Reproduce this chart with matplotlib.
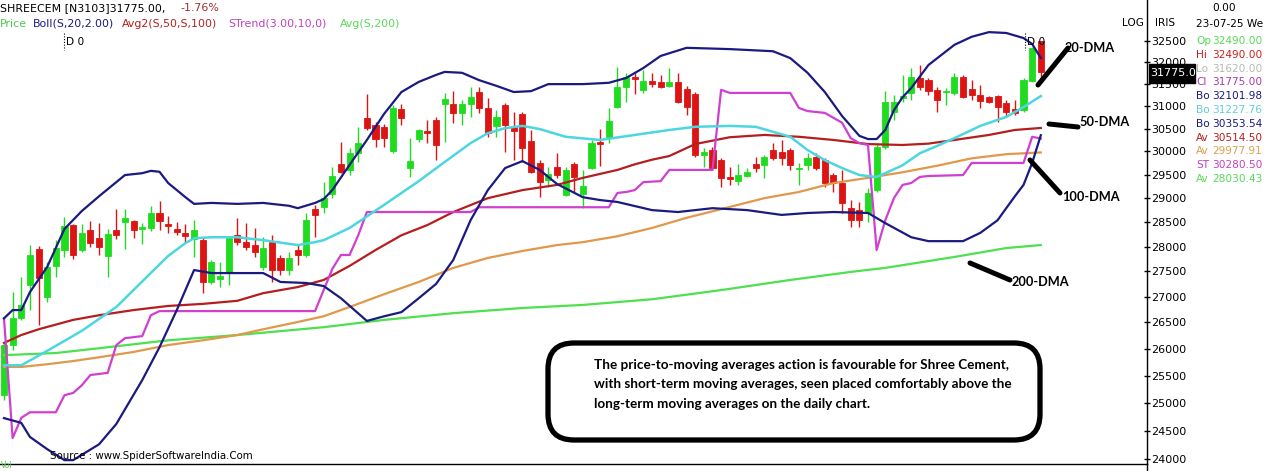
import numpy as np
import matplotlib.pyplot as plt
from matplotlib.patches import FancyBboxPatch, Rectangle
from matplotlib.ticker import FixedLocator, NullLocator

# ---- daily candles (SHREECEM) ----
opens = [25140, 26070, 26580, 27230, 27950, 26990, 27610, 27930, 28440, 27930,
         28340, 28170, 27810, 28340, 28500, 28520, 28360, 28380, 28690, 28460,
         28360, 28280, 28150, 28130, 27290, 27350, 27470, 28240, 28090, 28030,
         27590, 28090, 27770, 27530, 27930, 27830, 28770, 28810, 29090, 29730,
         29600, 29960, 30740, 30580, 30540, 30010, 30940, 29640, 30270, 30450,
         30690, 31050, 31050, 30850, 31050, 31320, 30960, 30560, 31030, 30540,
         30830, 30230, 29750, 29380, 29660, 29070, 29730, 29090, 29640, 30200,
         30310, 30980, 31430, 31660, 31370, 31570, 31550, 31460, 31550, 31390,
         31280, 29920, 30030, 29810, 29450, 29360, 29470, 29730, 29700, 30030,
         29990, 30030, 29620, 29700, 29880, 29810, 29490, 29320, 28790, 28750,
         28690, 29170, 30100, 30870, 31180, 31300, 31640, 31590, 31370, 31320,
         31300, 31660, 31390, 31250, 31210, 31230, 31070, 30940, 30910, 31570,
         32490]
highs = [26150, 27090, 27390, 28030, 28010, 27690, 28130, 28610, 28460, 28460,
         28520, 28480, 28360, 28770, 28770, 28540, 28480, 28830, 28940, 28630,
         28500, 28460, 28540, 28190, 27730, 27690, 28210, 28580, 28480, 28380,
         28190, 28240, 27830, 27890, 28030, 28690, 28860, 29340, 29660, 30200,
         30070, 30540, 31280, 30650, 30600, 31030, 31050, 30290, 30490, 30690,
         30760, 31300, 31340, 31140, 31430, 31430, 31180, 30910, 31070, 30870,
         30870, 30470, 29810, 29660, 29960, 29660, 29770, 29600, 30250, 30490,
         30960, 31890, 31750, 31750, 31820, 31750, 31710, 31870, 31750, 31460,
         31320, 30070, 30100, 29860, 29660, 29730, 29640, 29880, 29920, 30180,
         30250, 30070, 29750, 29960, 29960, 29860, 29540, 29600, 28960, 28920,
         29210, 30180, 31340, 31250, 31710, 31870, 31940, 31640, 31430, 31410,
         31750, 31710, 31590, 31480, 31230, 31250, 31140, 31140, 31640, 32360,
         32490]
lows = [25050, 25975, 26550, 26740, 26450, 26890, 27390, 27790, 27750, 27890,
        27990, 27830, 27390, 28150, 27950, 28170, 28050, 28320, 28340, 28280,
        28240, 28070, 27790, 27070, 27250, 27190, 27230, 28030, 27930, 27790,
        27530, 27290, 27430, 27430, 27630, 27790, 28190, 28690, 29000, 29540,
        29490, 29770, 30470, 30100, 30100, 29960, 30580, 29450, 30200, 30180,
        29810, 30200, 30620, 30580, 30760, 30850, 30310, 30310, 29990, 29810,
        29770, 29540, 29020, 29230, 29430, 29040, 29130, 28790, 29620, 29680,
        30180, 30960, 31090, 31270, 31300, 31430, 31410, 31430, 31070, 30800,
        29880, 29660, 29600, 29230, 29280, 29280, 29450, 29560, 29430, 29810,
        29700, 29600, 29280, 29600, 29600, 29230, 29130, 28690, 28400, 28400,
        28500, 29130, 30050, 30690, 31090, 31140, 31370, 31250, 30870, 31030,
        31250, 31180, 31140, 30960, 31070, 30650, 30760, 30800, 30870, 31550,
        31620]
closes = [26070, 26580, 26840, 27830, 27370, 27590, 27970, 28420, 27830, 28280,
          28070, 27990, 28260, 28240, 28580, 28340, 28400, 28690, 28520, 28420,
          28300, 28210, 28340, 27290, 27690, 27410, 28170, 28090, 27990, 27890,
          27970, 27530, 27530, 27770, 27830, 28540, 28650, 29010, 29470, 29560,
          29960, 30180, 30510, 30270, 30290, 30960, 30740, 29790, 30470, 30400,
          30140, 31160, 30850, 31050, 31210, 30960, 30400, 30760, 30580, 30450,
          30070, 29560, 29340, 29510, 29490, 29600, 29450, 29250, 30180, 30160,
          30670, 31430, 31660, 31620, 31570, 31500, 31430, 31550, 31090, 30980,
          29920, 29990, 29640, 29430, 29400, 29490, 29560, 29640, 29880, 29860,
          29860, 29700, 29640, 29860, 29640, 29320, 29320, 28900, 28540, 28540,
          29110, 30100, 31090, 31090, 31230, 31660, 31430, 31340, 31140, 31340,
          31660, 31210, 31250, 31120, 31090, 30980, 30870, 30850, 31590, 32344,
          31775]

# ---- indicator lines (candle index, price) ----
bb_up_idx = [0, 1, 2, 3, 5, 7, 9, 11, 14, 16, 17, 18, 19, 21, 22, 24, 27, 30, 33, 34,
             36, 37, 38, 40, 42, 44, 46, 48, 50, 51, 53, 55, 57, 59, 61, 63, 67, 70,
             72, 74, 76, 79, 84, 89, 91, 93, 95, 97, 98, 99, 100, 101, 102, 103, 104,
             105, 107, 110, 112, 114, 116, 118, 119, 120]
bb_up = [26580, 26740, 26740, 27090, 27590, 28360, 28730, 29040, 29490, 29530, 29580,
         29560, 29320, 29020, 28880, 28900, 28880, 28900, 28840, 28790, 28900, 28980,
         29170, 29710, 30250, 30830, 31320, 31550, 31710, 31780, 31760, 31590, 31460,
         31320, 31340, 31500, 31500, 31530, 31640, 31870, 32150, 32340, 32310, 32260,
         32100, 31760, 31320, 30780, 30560, 30340, 30270, 30270, 30470, 30910, 31200,
         31410, 31940, 32410, 32600, 32710, 32690, 32570, 32430, 32101.98]

bb_mid_idx = [0, 2, 5, 9, 13, 17, 19, 21, 22, 24, 27, 30, 34, 36, 37, 40, 44, 48, 51,
              54, 56, 58, 60, 62, 65, 69, 73, 77, 80, 84, 87, 91, 93, 95, 97, 99, 101,
              102, 104, 106, 108, 110, 113, 116, 118, 120]
bb_mid = [25690, 25690, 25960, 26340, 26800, 27470, 27810, 28070, 28170, 28190, 28190,
          28130, 28030, 28090, 28130, 28380, 28860, 29360, 29770, 30180, 30400, 30510,
          30560, 30490, 30320, 30250, 30360, 30470, 30540, 30560, 30540, 30320, 30030,
          29810, 29640, 29490, 29450, 29530, 29700, 29960, 30120, 30290, 30560, 30760,
          30980, 31227.76]

bb_lo_idx = [0, 2, 3, 5, 7, 8, 11, 13, 16, 18, 20, 22, 24, 27, 30, 32, 35, 37, 39, 42,
             44, 46, 48, 50, 52, 54, 56, 58, 60, 62, 64, 67, 69, 71, 75, 78, 82, 86, 90,
             93, 96, 100, 102, 105, 107, 111, 113, 115, 116, 117, 118, 119, 120]
bb_lo = [24725, 24640, 24390, 24175, 23983, 23983, 24260, 24620, 25416, 26030, 26740,
         27527, 27467, 27467, 27467, 27290, 27270, 27210, 26970, 26530, 26620, 26700,
         26970, 27250, 27730, 28540, 29170, 29640, 29790, 29600, 29300, 29020, 28960,
         28920, 28750, 28710, 28790, 28750, 28650, 28690, 28710, 28690, 28480, 28190,
         28110, 28110, 28280, 28540, 28790, 29040, 29280, 29750, 30353.54]

sma50_idx = [0, 2, 4, 8, 11, 15, 19, 23, 27, 30, 34, 37, 40, 43, 46, 49, 52, 56, 60, 64,
             67, 71, 73, 75, 77, 80, 84, 88, 92, 96, 100, 104, 107, 110, 114, 117, 120]
sma50 = [26110, 26260, 26370, 26550, 26640, 26740, 26820, 26860, 26920, 27070, 27190,
         27330, 27610, 27930, 28230, 28440, 28710, 29000, 29170, 29280, 29430, 29600,
         29720, 29820, 29900, 30160, 30310, 30360, 30320, 30250, 30160, 30140, 30170,
         30250, 30360, 30470, 30514.50]

sma100_idx = [0, 2, 5, 8, 11, 15, 19, 23, 27, 30, 34, 37, 40, 44, 48, 52, 56, 60, 64, 67,
              71, 75, 79, 83, 88, 92, 96, 100, 104, 108, 112, 116, 120]
sma100 = [25660, 25660, 25710, 25770, 25840, 25940, 26070, 26160, 26260, 26370, 26510,
          26620, 26800, 27050, 27290, 27570, 27770, 27910, 28030, 28090, 28210, 28380,
          28590, 28770, 29000, 29130, 29320, 29430, 29550, 29690, 29850, 29940, 29977.91]

sma200_idx = [0, 6, 11, 19, 27, 37, 44, 52, 60, 67, 75, 83, 91, 98, 102, 110, 116, 120]
sma200 = [25880, 25920, 26010, 26160, 26260, 26410, 26550, 26680, 26780, 26840, 26950,
          27130, 27330, 27490, 27570, 27790, 27970, 28030.43]

st_idx = [0, 1, 2, 3, 6, 7, 8, 9, 10, 12, 13, 14, 16, 17, 18, 36, 37, 38, 39, 40, 41, 42,
          54, 55, 70, 71, 72, 73, 74, 76, 77, 82, 83, 84, 91, 92, 93, 94, 95, 96, 97, 98,
          99, 100, 101, 102, 103, 104, 105, 106, 107, 111, 112, 118, 119, 120]
strend = [26580, 24370, 24730, 24830, 24830, 25140, 25180, 25320, 25510, 25550, 26070,
          26200, 26240, 26640, 26720, 26720, 27130, 27550, 27830, 27830, 28230, 28710,
          28710, 28810, 28810, 29110, 29130, 29170, 29340, 29360, 29600, 29600, 31370,
          31300, 31300, 30960, 30890, 30870, 30850, 30740, 30630, 30290, 30180, 30140,
          27930, 28540, 29000, 29280, 29320, 29450, 29470, 29490, 29750, 29750, 30320,
          30280.50]

yticks = list(range(24000, 33000, 500))
info_labels = ['Op', 'Hi', 'Lo', 'Cl', 'Bo', 'Bo', 'Bo', 'Av', 'Av', 'ST', 'Av']
info_values = ['32490.00', '32490.00', '31620.00', '31775.00', '32101.98', '31227.76',
               '30353.54', '30514.50', '29977.91', '30280.50', '28030.43']
info_colors = ['#5ad85a', '#c82020', '#b8b8b8', '#a83aa8', '#1a1a80', '#5cd0dc',
               '#1a1a80', '#b42020', '#d8a050', '#c040c0', '#5ad85a']

navy = '#1a1a80'
W, H = 1266, 471
fig = plt.figure(figsize=(W / 100, H / 100), dpi=100)
fig.patch.set_facecolor('white')

# price panel: candle i sits at pixel x = 4 + 8.64 i, log price scale
ax = fig.add_axes([0, 7 / H, 1147 / W, 464 / H])
ax.set_yscale('log')
ax.set_ylim(23916, 33481)
ax.set_xlim(-4 / 8.64, 1143 / 8.64)

o = np.array(opens, float)
c = np.array(closes, float)
idx = np.arange(len(o))
cols = np.where(c >= o, '#20dc20', '#dc1414')
ax.vlines(idx, lows, highs, colors=cols, lw=1.0, zorder=2)
ax.bar(idx, np.abs(c - o), bottom=np.minimum(o, c), width=0.7, color=cols,
       edgecolor=cols, linewidth=0.6, zorder=3)

ax.plot(sma200_idx, sma200, color='#4ee04e', lw=1.6, zorder=4)
ax.plot(sma100_idx, sma100, color='#e0984a', lw=1.6, zorder=4)
ax.plot(sma50_idx, sma50, color='#b41e1e', lw=1.6, zorder=4)
ax.plot(st_idx, strend, color='#d040d0', lw=1.6, zorder=4)
ax.plot(bb_mid_idx, bb_mid, color='#4cd6e0', lw=1.8, zorder=4)
ax.plot(bb_up_idx, bb_up, color=navy, lw=1.6, zorder=5)
ax.plot(bb_lo_idx, bb_lo, color=navy, lw=1.6, zorder=5)

ax.yaxis.tick_right()
ax.yaxis.set_major_locator(FixedLocator(yticks))
ax.yaxis.set_minor_locator(NullLocator())
ax.set_yticklabels([str(t) for t in yticks])
ax.tick_params(axis='y', direction='inout', length=4, width=1, pad=1, labelsize=8)
ax.set_xticks([])
for s in ['top', 'left']:
    ax.spines[s].set_visible(False)
for s in ['right', 'bottom']:
    ax.spines[s].set_linewidth(1)
ax.set_facecolor('none')

# overlay in pixel coordinates for the texts and drawn notes
ov = fig.add_axes([0, 0, 1, 1])
ov.set_xlim(0, W)
ov.set_ylim(H, 0)
ov.axis('off')
ov.set_zorder(10)

f = 'DejaVu Sans'
ov.text(0, 8, 'SHREECEM [N3103]31775.00,', fontsize=7.9, family=f, va='center')
ov.text(180, 8, '-1.76%', fontsize=7.9, family=f, va='center', color='#a03030')
for x, s, col in [(0, 'Price', '#4cc84c'), (33, 'Boll(S,20,2.00)', navy),
                  (122, 'Avg2(S,50,S,100)', '#b42020'), (228, 'STrend(3.00,10,0)', '#c040c0'),
                  (340, 'Avg(S,200)', '#5ad85a')]:
    ov.text(x, 24, s, fontsize=7.9, family=f, va='center', color=col)

for x in [64, 1025]:
    ov.plot([x, x], [33, 50], color='black', lw=0.8, ls=(0, (1, 1.5)))
    ov.text(x + 2, 42, 'D 0', fontsize=7.6, family=f, va='center')

ov.text(1122, 23, 'LOG', fontsize=7.6, family=f, va='center')
ov.text(1155, 23, 'IRIS', fontsize=7.6, family=f, va='center')
ov.text(1212, 8, '0.00', fontsize=7.6, family=f, va='center')
ov.text(1196, 24, '23-07-25 We', fontsize=7.6, family=f, va='center')
for k, (lab, val, col) in enumerate(zip(info_labels, info_values, info_colors)):
    y = 41 + 13.8 * k
    ov.text(1196, y, lab, fontsize=7.6, family=f, va='center', color=col)
    ov.text(1212, y, val, fontsize=7.6, family=f, va='center', color=col)

ov.add_patch(Rectangle((1149, 64), 46, 19, color='black'))
ov.text(1150, 73.5, '31775.0', fontsize=8, family=f, va='center', color='white')
ov.plot([1147, 1147], [464, H], color='black', lw=1)

ov.text(50, 456, 'Source : www.SpiderSoftwareIndia.Com', fontsize=7.4, family=f,
        va='center')
ov.text(1, 470.5, 'Vol', fontsize=5.5, family=f, va='bottom', color='#4cc84c')

# DMA notes
lab = dict(fontsize=9.2, family='Lato', fontweight='bold', va='center')
for (x0, y0, x1, y1), (tx, ty, s) in [((1038, 85, 1068, 48), (1065, 48, '20-DMA')),
                                     ((1049, 124, 1078, 127), (1079, 122, '50-DMA')),
                                     ((1030, 160, 1060, 193), (1062, 197, '100-DMA')),
                                     ((970, 263, 1010, 280), (1012, 282, '200-DMA'))]:
    ov.plot([x0, x1], [y0, y1], color='black', lw=3.6, solid_capstyle='round')
    ov.text(tx, ty, s, **lab)

ov.add_patch(FancyBboxPatch((548, 343), 492, 97,
                            boxstyle='round,pad=0,rounding_size=26',
                            fill=False, edgecolor='black', lw=3.8))
note = ['The price-to-moving averages action is favourable for Shree Cement,',
        'with short-term moving averages, seen placed comfortably above the',
        'long-term moving averages on the daily chart.']
for k, s in enumerate(note):
    ov.text(594, 365 + 19.5 * k, s, fontsize=9.7, family='Lato', fontweight='bold',
            va='center')

fig.savefig('out.png', dpi=100)
